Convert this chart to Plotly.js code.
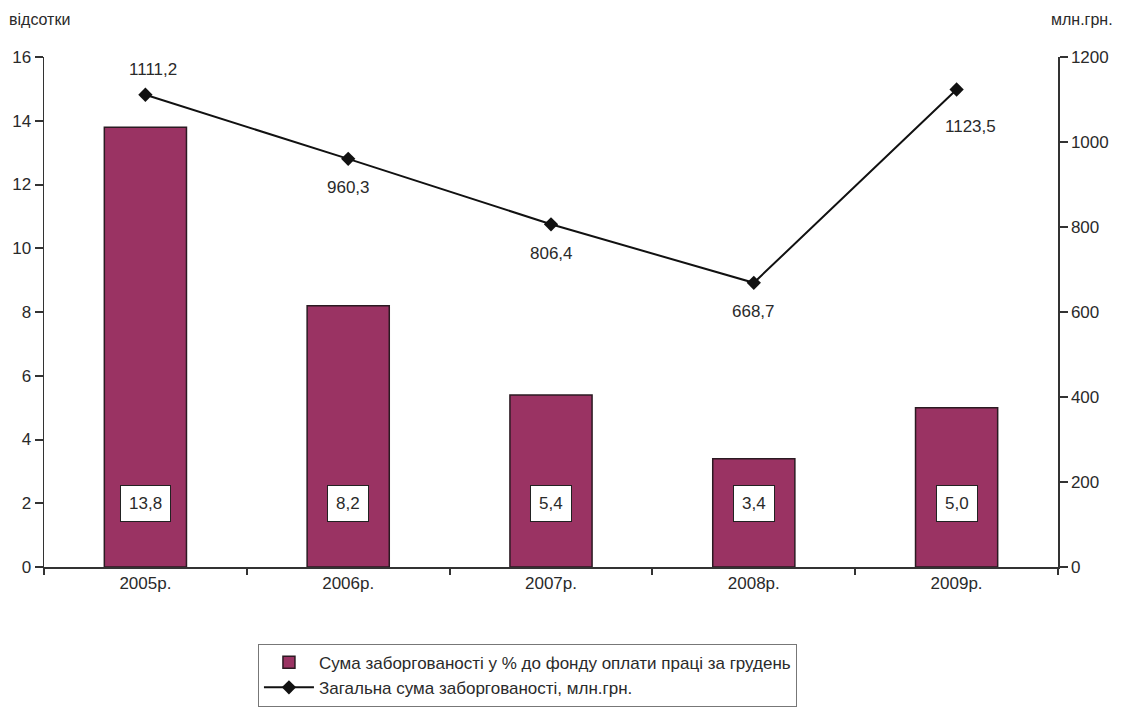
<!DOCTYPE html>
<html>
<head>
<meta charset="utf-8">
<script src="https://cdn.plot.ly/plotly-3.0.1.min.js"></script>
<style>html,body{margin:0;padding:0;background:#fff;}#chart{width:1126px;height:717px;}</style>
</head>
<body>
<div id="chart"></div>
<script>
const categories = ["2005р.", "2006р.", "2007р.", "2008р.", "2009р."];
const percentValues = [13.8, 8.2, 5.4, 3.4, 5.0];
const totalValues = [1111.2, 960.3, 806.4, 668.7, 1123.5];
const percentLabels = ["13,8", "8,2", "5,4", "3,4", "5,0"];
const totalLabels = ["1111,2", "960,3", "806,4", "668,7", "1123,5"];
const seriesNames = ["Сума заборгованості у % до фонду оплати праці за грудень", "Загальна сума заборгованості, млн.грн."];
const leftTitle = "відсотки";
const rightTitle = "млн.грн.";

const FONT = "Liberation Sans Narrow, Arial Narrow, Liberation Sans, Arial, sans-serif";
const TXT = "#2a2a2a";

const traces = [
  {
    type: "bar", x: categories, y: percentValues, name: seriesNames[0],
    marker: {color: "#9a3363", line: {color: "#2b1a22", width: 1.5}},
    width: 0.405, yaxis: "y", hoverinfo: "skip"
  },
  {
    type: "scatter", mode: "lines+markers", x: categories, y: totalValues, name: seriesNames[1],
    yaxis: "y2", line: {color: "#111", width: 2},
    marker: {symbol: "diamond", size: 11, color: "#111"}, hoverinfo: "skip"
  }
];

const annotations = [];
categories.forEach((c, i) => {
  annotations.push({
    x: c, y: 2, xref: "x", yref: "y", text: percentLabels[i], showarrow: false,
    bgcolor: "#fff", bordercolor: "#222", borderwidth: 1, borderpad: 8,
    font: {family: FONT, size: 17, color: TXT}
  });
  const above = i === 0;
  annotations.push({
    x: c, y: totalValues[i], xref: "x", yref: "y2", text: totalLabels[i], showarrow: false,
    yshift: above ? 25 : (i === 4 ? -37 : -29), xshift: i === 0 ? 8 : (i === 4 ? 14 : 0),
    font: {family: FONT, size: 17, color: TXT}
  });
});
annotations.push({xref: "paper", yref: "paper", x: -0.036, y: 1.052, xanchor: "left", yanchor: "bottom",
  text: leftTitle, showarrow: false, font: {family: FONT, size: 16, color: TXT}});
annotations.push({xref: "paper", yref: "paper", x: 1.056, y: 1.052, xanchor: "right", yanchor: "bottom",
  text: rightTitle, showarrow: false, font: {family: FONT, size: 16, color: TXT}});

const layout = {
  width: 1126, height: 717,
  margin: {l: 44, r: 68, t: 57, b: 149},
  paper_bgcolor: "#fff", plot_bgcolor: "#fff",
  font: {family: FONT, size: 17, color: TXT},
  showlegend: true,
  legend: {
    x: 0.211, y: -0.148, xanchor: "left", yanchor: "top",
    bordercolor: "#777", borderwidth: 1, bgcolor: "#fff",
    font: {family: FONT, size: 17, color: TXT}, itemwidth: 50,
    traceorder: "normal"
  },
  xaxis: {
    showline: true, linecolor: "#333", linewidth: 1.5,
    ticks: "outside", ticklen: 6, tickcolor: "#333", tickwidth: 2, tickson: "boundaries",
    showgrid: false, zeroline: false, tickfont: {family: FONT, size: 17, color: TXT}
  },
  yaxis: {
    range: [0, 16], dtick: 2, showline: true, linecolor: "#333", linewidth: 1.5,
    ticks: "outside", ticklen: 8, tickcolor: "#333", tickwidth: 2,
    showgrid: false, zeroline: false, tickfont: {family: FONT, size: 17, color: TXT}
  },
  yaxis2: {
    range: [0, 1200], dtick: 200, overlaying: "y", side: "right",
    showline: true, linecolor: "#333", linewidth: 1.5,
    ticks: "outside", ticklen: 8, tickcolor: "#333", tickwidth: 2,
    showgrid: false, zeroline: false, tickfont: {family: FONT, size: 17, color: TXT}
  },
  annotations: annotations
};

Plotly.newPlot("chart", traces, layout, {displayModeBar: false, staticPlot: true});
</script>
</body>
</html>
